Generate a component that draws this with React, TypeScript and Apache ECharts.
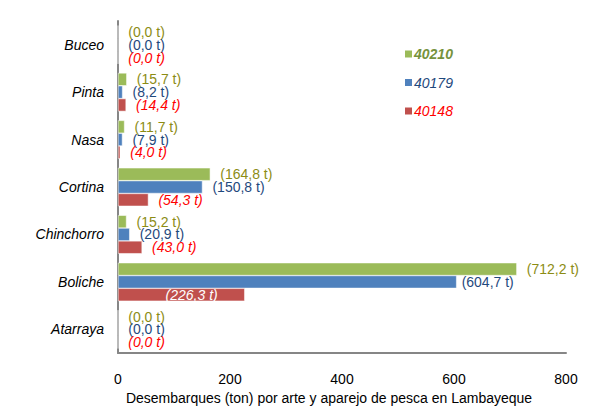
import React, { useEffect, useRef } from "react";
import * as echarts from "echarts";

const categories = ["Buceo", "Pinta", "Nasa", "Cortina", "Chinchorro", "Boliche", "Atarraya"];
const seriesNames = ["40210", "40179", "40148"];
const values40210 = [0, 15.7, 11.7, 164.8, 15.2, 712.2, 0];
const values40179 = [0, 8.2, 7.9, 150.8, 20.9, 604.7, 0];
const values40148 = [0, 14.4, 4.0, 54.3, 43.0, 226.3, 0];
const xTicks = [0, 200, 400, 600, 800];

const FONT = "Liberation Sans";

const fmt = (v: number) => "(" + v.toFixed(1).replace(".", ",") + " t)";

export default function App() {
  const ref = useRef<HTMLDivElement>(null);
  useEffect(() => {
    const chart = echarts.init(ref.current!, undefined, { renderer: "svg" });
    const barColors = ["#9BBB59", "#4F81BD", "#C0504D"];
    const labelColors = ["#8C8C14", "#1F497D", "#FF0000"];
    const labelStyles = ["normal", "normal", "italic"];
    const allValues = [values40210, values40179, values40148];

    const series = allValues.map((vals, si) => ({
      name: seriesNames[si],
      type: "bar",
      barGap: "0%",
      barCategoryGap: "19%",
      itemStyle: { color: barColors[si], borderColor: "#fff", borderWidth: 0.5 },
      data: vals.map((v, i) => {
        const d: any = { value: v };
        if (categories[i] === "Boliche" && si === 1) {
          d.label = { distance: 5 };
        }
        if (categories[i] === "Boliche" && si === 2) {
          d.label = { position: "insideRight", distance: 27, color: "#FFFFFF" };
        }
        return d;
      }),
      label: {
        show: true,
        position: "right",
        distance: 10,
        color: labelColors[si],
        fontStyle: labelStyles[si],
        fontFamily: FONT,
        fontSize: 14,
        lineHeight: 12,
        formatter: (p: any) => fmt(p.value),
      },
    }));

    chart.setOption({
      animation: false,
      backgroundColor: "#fff",
      grid: { left: 118, right: 28, top: 21, bottom: 53 },
      legend: {
        orient: "vertical",
        left: 398,
        top: 42,
        icon: "rect",
        itemWidth: 9,
        itemHeight: 9,
        itemGap: 14.5,
        data: [
          { name: "40210", textStyle: { color: "#76923C", fontStyle: "italic", fontWeight: "bold" } },
          { name: "40179", textStyle: { color: "#1F497D", fontStyle: "italic" } },
          { name: "40148", textStyle: { color: "#FF0000", fontStyle: "italic" } },
        ],
        textStyle: { fontFamily: FONT, fontSize: 14, padding: [0, 0, 0, -4] },
        selectedMode: false,
      },
      xAxis: {
        type: "value",
        min: xTicks[0],
        max: xTicks[xTicks.length - 1],
        interval: 200,
        splitLine: { show: false },
        axisLine: { show: true, lineStyle: { color: "#868686", width: 2 } },
        axisTick: { show: false },
        axisLabel: { color: "#000", fontFamily: FONT, fontSize: 14, margin: 19 },
        name: "Desembarques (ton) por arte y aparejo de pesca en Lambayeque",
        nameLocation: "middle",
        nameGap: 37,
        nameTextStyle: { color: "#000", fontFamily: FONT, fontSize: 14, padding: [0, 26, 0, 0] },
      },
      yAxis: {
        type: "category",
        inverse: true,
        data: categories,
        axisLine: { show: true, lineStyle: { color: "#868686", width: 2 } },
        axisTick: { show: false },
        axisLabel: { color: "#000", fontFamily: FONT, fontSize: 14, fontStyle: "italic", margin: 14 },
      },
      series,
    });
    return () => chart.dispose();
  }, []);
  return (
    <div
      ref={ref}
      style={{ position: "absolute", left: 0, top: 0, width: 594, height: 410 }}
    />
  );
}
